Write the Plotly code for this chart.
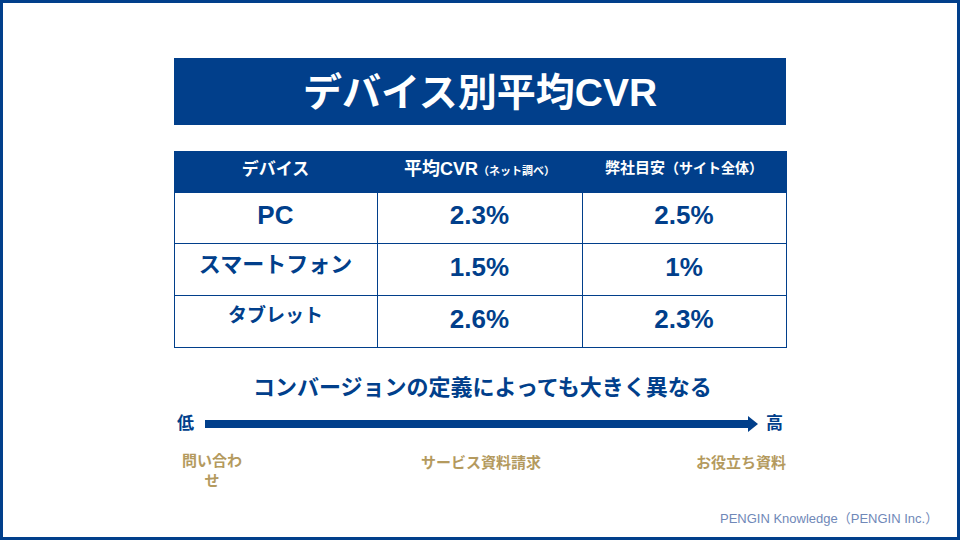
import plotly.graph_objects as go

W, H = 960, 540
BLUE = "#013F8B"
GOLD = "#B49A5E"
FONT = "Liberation Sans, Noto Sans CJK JP, sans-serif"

title = "デバイス別平均CVR"
header_main = ["デバイス", "平均CVR", "弊社目安"]
header_sub = ["", "（ネット調べ）", "（サイト全体）"]
header_main_sizes = [17, 18, 15]
header_sub_sizes = [11, 11, 14]
devices = ["PC", "スマートフォン", "タブレット"]
device_font_sizes = [26, 22, 19]
avg_cvr = ["2.3%", "1.5%", "2.6%"]
our_target = ["2.5%", "1%", "2.3%"]
subtitle = "コンバージョンの定義によっても大きく異なる"
scale_ends = ["低", "高"]
scale_labels = ["問い合わ<br>せ", "サービス資料請求", "お役立ち資料"]
scale_label_x = [212, 481, 741]
footer = "PENGIN Knowledge（PENGIN Inc.）"

def px(x):
    return x / W

def py(y):
    return 1 - y / H

def styled(text, size):
    return f"<span style='font-size:{size}px'>{text}</span>"

header_values = []
for m, s, ms, ss in zip(header_main, header_sub, header_main_sizes, header_sub_sizes):
    t = styled(m, ms)
    if s:
        t += styled(s, ss)
    header_values.append(f"<b>{t}</b><br>")

VAL_SIZE = 26
cell_values = [
    [f"<b>{styled(d, s)}</b><br>" for d, s in zip(devices, device_font_sizes)],
    [f"<b>{styled(v, VAL_SIZE)}</b><br>" for v in avg_cvr],
    [f"<b>{styled(v, VAL_SIZE)}</b><br>" for v in our_target],
]

fig = go.Figure()

fig.add_trace(go.Table(
    domain=dict(x=[px(174), px(786.5)], y=[py(351), py(151)]),
    columnwidth=[203, 205, 204],
    header=dict(
        values=header_values,
        fill_color=BLUE,
        line=dict(color=BLUE, width=1),
        align="center",
        height=41,
        font=dict(family=FONT, size=15, color="white"),
    ),
    cells=dict(
        values=cell_values,
        fill_color="white",
        line=dict(color=BLUE, width=1),
        align="center",
        height=51.8,
        font=dict(family=FONT, size=VAL_SIZE, color=BLUE),
    ),
))

shapes = [
    dict(type="rect", xref="paper", yref="paper", x0=px(1.5), x1=px(958.5), y0=py(538.5), y1=py(1.5),
         line=dict(color=BLUE, width=3), fillcolor="rgba(0,0,0,0)", layer="above"),
    dict(type="rect", xref="paper", yref="paper", x0=px(174), x1=px(786), y0=py(125), y1=py(58),
         line=dict(width=0), fillcolor=BLUE),
    dict(type="line", xref="paper", yref="paper", x0=px(205), x1=px(750), y0=py(424), y1=py(424),
         line=dict(color=BLUE, width=8)),
    dict(type="path", xref="paper", yref="paper",
         path=f"M {px(748)},{py(416)} L {px(758)},{py(424)} L {px(748)},{py(432)} Z",
         fillcolor=BLUE, line=dict(width=0)),
]

annotations = [
    dict(text=f"<b>{title}</b>", x=px(480), y=py(92), font=dict(family=FONT, size=39, color="white")),
    dict(text=f"<b>{subtitle}</b>", x=px(482), y=py(387), font=dict(family=FONT, size=22, color=BLUE)),
    dict(text=f"<b>{scale_ends[0]}</b>", x=px(185.5), y=py(423), font=dict(family=FONT, size=17, color=BLUE)),
    dict(text=f"<b>{scale_ends[1]}</b>", x=px(774.5), y=py(423), font=dict(family=FONT, size=17, color=BLUE)),
    dict(text=footer, x=px(940), y=py(518), xanchor="right", font=dict(family=FONT, size=13, color="#7088B8")),
]
for lbl, xx in zip(scale_labels, scale_label_x):
    multi = "<br>" in lbl
    annotations.append(dict(text=f"<b>{lbl}</b>", x=px(xx), y=py(450) if multi else py(462),
                            yanchor="top" if multi else "middle",
                            font=dict(family=FONT, size=15, color=GOLD)))
for a in annotations:
    a.setdefault("xref", "paper"); a.setdefault("yref", "paper"); a["showarrow"] = False
    a.setdefault("xanchor", "center"); a.setdefault("yanchor", "middle")

fig.update_layout(
    width=W, height=H, margin=dict(l=0, r=0, t=0, b=0),
    paper_bgcolor="white", plot_bgcolor="white",
    shapes=shapes, annotations=annotations,
    xaxis=dict(visible=False), yaxis=dict(visible=False),
    showlegend=False,
)

fig.write_html("out.html", config={"displayModeBar": False},
               post_script="document.body.style.margin='0';")
